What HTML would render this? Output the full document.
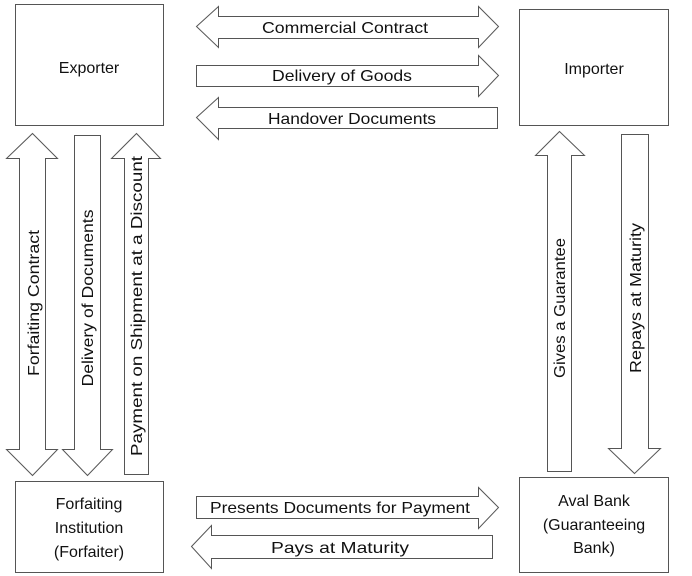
<!DOCTYPE html>
<html><head><meta charset="utf-8"><style>
html,body{margin:0;padding:0;background:#fff;}
svg{display:block;}
text{font-family:"Liberation Sans",sans-serif;font-size:16px;fill:#111;}
</style></head><body>
<svg width="692" height="576" viewBox="0 0 692 576" xmlns="http://www.w3.org/2000/svg">
<g fill="#fff" stroke="#555" stroke-width="1">
<rect x="15.5" y="4.5" width="148" height="121"/>
<rect x="519.5" y="9.5" width="149" height="116"/>
<rect x="15.5" y="481.5" width="148" height="91"/>
<rect x="519.5" y="477.5" width="149" height="95"/>
<polygon points="196.5,26.5 218.5,6.5 218.5,16.5 478.5,16.5 478.5,6.5 498.5,26.5 478.5,47.5 478.5,38.5 218.5,38.5 218.5,47.5"/>
<polygon points="196.5,65.5 478.5,65.5 478.5,55.5 498.5,75.5 478.5,96.5 478.5,86.5 196.5,86.5"/>
<polygon points="196.5,117.5 218.5,97.5 218.5,107.5 497.5,107.5 497.5,128.5 218.5,128.5 218.5,139.5"/>
<polygon points="196.5,496.5 478.5,496.5 478.5,487.5 498.5,507.5 478.5,528.5 478.5,518.5 196.5,518.5"/>
<polygon points="191.5,546.5 211.5,525.5 211.5,535.5 492.5,535.5 492.5,558.5 211.5,558.5 211.5,568.5"/>
<polygon points="32.5,133.5 57.5,158.5 45.5,158.5 45.5,449.5 57.5,449.5 32.5,475.5 6.5,449.5 19.5,449.5 19.5,158.5 6.5,158.5"/>
<polygon points="74.5,135.5 100.5,135.5 100.5,449.5 112.5,449.5 87.5,475.5 62.5,449.5 74.5,449.5"/>
<polygon points="136.5,133.5 160.5,158.5 148.5,158.5 148.5,474.5 124.5,474.5 124.5,158.5 111.5,158.5"/>
<polygon points="559.5,131.5 584.5,155.5 571.5,155.5 571.5,471.5 547.5,471.5 547.5,155.5 535.5,155.5"/>
<polygon points="621.5,134.5 648.5,134.5 648.5,448.5 660.5,448.5 634.5,473.5 608.5,448.5 621.5,448.5"/>
</g>
<text x="89" y="73" text-anchor="middle">Exporter</text>
<text x="594" y="74" text-anchor="middle">Importer</text>
<text x="345" y="33" text-anchor="middle" textLength="166" lengthAdjust="spacingAndGlyphs">Commercial Contract</text>
<text x="342" y="81" text-anchor="middle" textLength="140" lengthAdjust="spacingAndGlyphs">Delivery of Goods</text>
<text x="352" y="124" text-anchor="middle" textLength="168" lengthAdjust="spacingAndGlyphs">Handover Documents</text>
<text x="340" y="513" text-anchor="middle" textLength="260" lengthAdjust="spacingAndGlyphs">Presents Documents for Payment</text>
<text x="340" y="553" text-anchor="middle" textLength="138" lengthAdjust="spacingAndGlyphs">Pays at Maturity</text>
<text x="89" y="509" text-anchor="middle" font-size="17">Forfaiting</text>
<text x="89" y="533" text-anchor="middle" font-size="17">Institution</text>
<text x="89" y="557" text-anchor="middle" font-size="17">(Forfaiter)</text>
<text x="594" y="506" text-anchor="middle" font-size="17">Aval Bank</text>
<text x="594" y="530" text-anchor="middle" font-size="17">(Guaranteeing</text>
<text x="594" y="553" text-anchor="middle" font-size="17">Bank)</text>
<text transform="translate(39,303) rotate(-90)" text-anchor="middle" textLength="146" lengthAdjust="spacingAndGlyphs">Forfaiting Contract</text>
<text transform="translate(93,298) rotate(-90)" text-anchor="middle" textLength="177" lengthAdjust="spacingAndGlyphs">Delivery of Documents</text>
<text transform="translate(142,306) rotate(-90)" text-anchor="middle" textLength="300" lengthAdjust="spacingAndGlyphs">Payment on Shipment at a Discount</text>
<text transform="translate(565,308) rotate(-90)" text-anchor="middle" textLength="140" lengthAdjust="spacingAndGlyphs">Gives a Guarantee</text>
<text transform="translate(641,298) rotate(-90)" text-anchor="middle" textLength="150" lengthAdjust="spacingAndGlyphs">Repays at Maturity</text>
</svg>
</body></html>
